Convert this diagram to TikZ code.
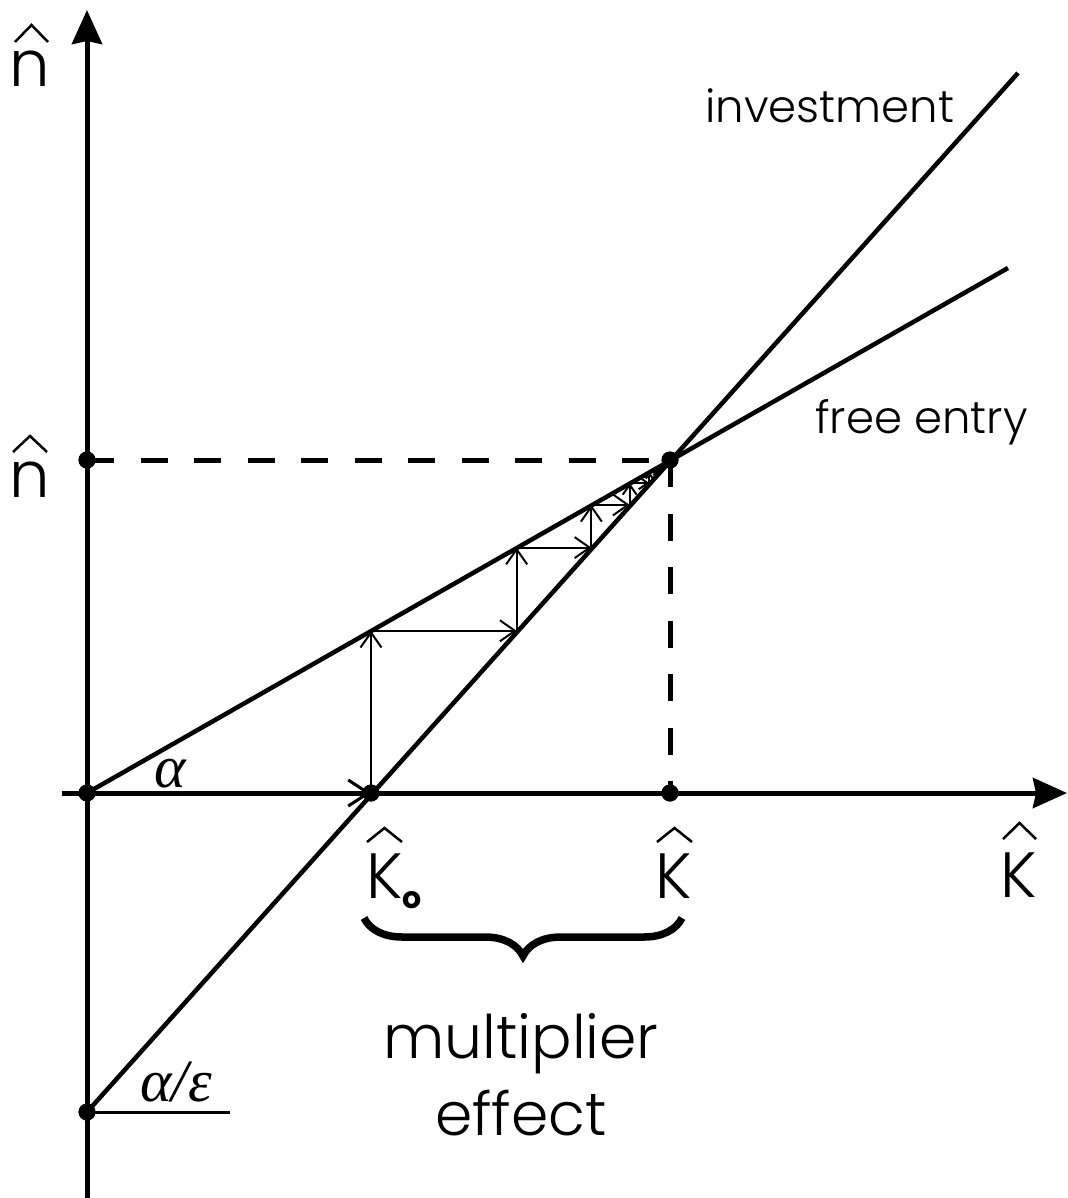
\documentclass[tikz,border=0pt]{standalone}
\usepackage{fontspec}
\IfFontExistsTF{Poppins Light}{\setmainfont{Poppins Light}}{\setmainfont{Poppins}}
\newfontfamily\greekfont{Liberation Serif}
\newfontfamily\subfont{Poppins}
\usetikzlibrary{arrows.meta,decorations.pathreplacing}
\begin{document}
\begin{tikzpicture}[x=1pt,y=-1pt,
  axis/.style={line width=5pt,-{Stealth[length=34pt,width=30pt,inset=3pt]}},
  mainline/.style={line width=4.5pt},
  guide/.style={line width=5pt,dash pattern=on 27pt off 26.5pt},
  stair/.style={line width=2pt},
  hatline/.style={line width=2.5pt,line join=miter},
  dot/.style={circle,fill,inner sep=0pt,minimum size=17pt},
  biglab/.style={font=\fontsize{64}{64}\selectfont,inner sep=0pt},
  curvelab/.style={font=\fontsize{45}{45}\selectfont,inner sep=0pt},
  greek/.style={font=\fontsize{60}{60}\selectfont\greekfont\itshape,inner sep=0pt},
  bracelab/.style={font=\fontsize{60}{78}\selectfont,inner sep=0pt,align=center}]
\useasboundingbox (0,0) rectangle (1067,1198);

% key points
\node[dot] (O)  at (87,793) {};
\node[dot] (nh) at (87,460) {};
\node[dot] (E)  at (670,460) {};
\node[dot] (K0) at (371,793) {};
\node[dot] (Kh) at (670,793) {};
\node[dot] (Ie) at (87,1112) {};
\coordinate (ybot) at (87,1205);
\coordinate (ytop) at (87,10);
\coordinate (xleft) at (62,793);
\coordinate (xright) at (1067,793);
\coordinate (invEnd) at (1018,73);
\coordinate (feEnd) at (1008,268);
\coordinate (aeEnd) at (230,1112);

% axes
\draw[axis] (ybot) -- (ytop);
\draw[axis] (xleft) -- (xright);

% curves
\draw[mainline] (Ie.center) -- (invEnd);
\draw[mainline] (O.center) -- (feEnd);
\draw[line width=3pt] (Ie.center) -- (aeEnd);

% guides
\draw[guide] (nh.center) -- (E.center);
\draw[guide] (E.center) -- (Kh.center);

% first step along the axis
\draw[line width=3pt,-{Straight Barb[length=20pt,width=26pt,line width=3pt]}] (O.center) -- (K0.center);

% staircase
\gdef\xcur{371}
\foreach \i in {1,...,8}{
  \pgfmathsetmacro\yi{793-1.113712*(\xcur-371)}
  \pgfmathsetmacro\yf{793-0.571184*(\xcur-87)}
  \pgfmathsetmacro\xn{371+(793-\yf)/1.113712}
  \pgfmathsetmacro\la{min(15,0.45*(\yi-\yf))}
  \pgfmathsetmacro\wa{1.4*\la}
  \pgfmathsetmacro\lb{min(15,0.45*(\xn-\xcur))}
  \pgfmathsetmacro\wb{1.4*\lb}
  \draw[stair,-{Straight Barb[length=\la pt,width=\wa pt]}] (\xcur,\yi) -- (\xcur,\yf);
  \draw[stair,-{Straight Barb[length=\lb pt,width=\wb pt]}] (\xcur,\yf) -- (\xn,\yf);
  \xdef\xcur{\xn}
}

% redraw dots on top
\foreach \p in {O,nh,E,K0,Kh,Ie}{\fill (\p.center) circle (8.5pt);}

% labels
\node[biglab,anchor=base] (lnTop) at (30,87) {n};
\node[biglab,anchor=base] (lnMid) at (30,497) {n};
\node[biglab,anchor=base west] (lK0) at (366,898) {K\raisebox{-10pt}{\fontsize{30}{30}\selectfont\subfont\bfseries o}};
\node[biglab,anchor=base] (lKh) at (674,898) {K};
\node[biglab,anchor=base] (lKax) at (1019,897) {K};
\node[greek] (lalpha) at (170,774) {α};
\node[greek] (lae) at (176,1082) {α/ε};
\node[curvelab,anchor=base west] (linv) at (705,123) {investment};
\node[curvelab,anchor=base west] (lfe) at (815,433) {free entry};

% hats
\newcommand\hatat[4]{\draw[hatline] (#1-#3,#2+#4) -- (#1,#2) -- (#1+#3,#2+#4);}
\hatat{31.5}{25}{16.5}{17}
\hatat{30}{436}{17}{16}
\hatat{384.5}{828}{17.5}{14}
\hatat{674.5}{828}{17.5}{14}
\hatat{1019.5}{823}{16.5}{16}

% brace
\coordinate (brR) at (682,918);
\coordinate (brL) at (364,918);
\draw[line width=7.5pt,decorate,decoration={brace,amplitude=38pt,aspect=0.5}] (brR) -- (brL);
\node[bracelab,anchor=base] (lmult) at (521,1058) {multiplier};
\node[bracelab,anchor=base] (leff) at (521,1135) {effect};
\end{tikzpicture}
\end{document}
